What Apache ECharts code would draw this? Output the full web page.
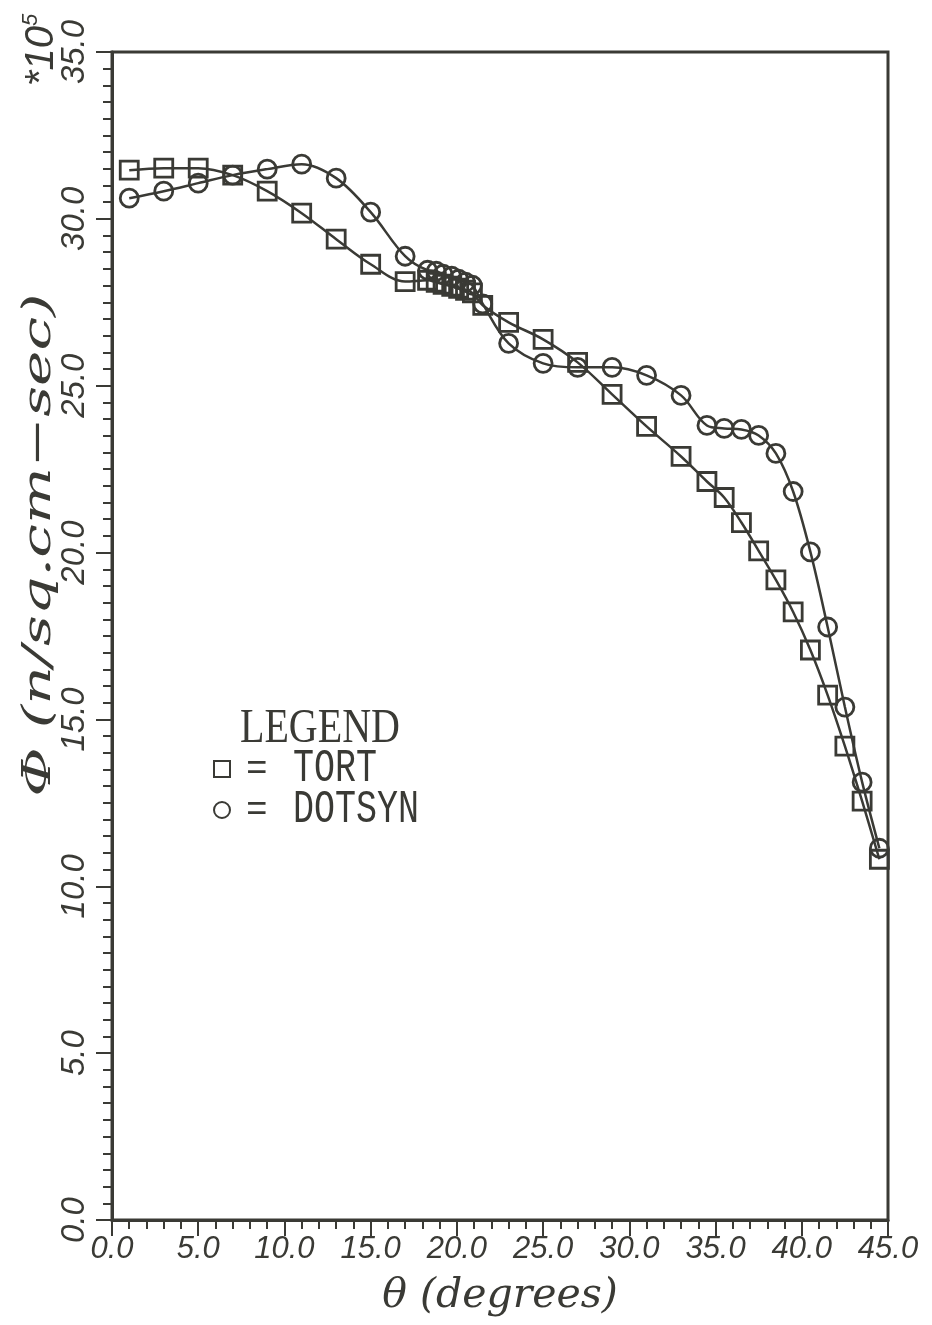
<!DOCTYPE html>
<html>
<head>
<meta charset="utf-8">
<script src="https://cdn.jsdelivr.net/npm/echarts@6/dist/echarts.min.js"></script>
<style>
  html, body { margin: 0; padding: 0; background: #fff; }
  #chart { width: 932px; height: 1325px; }
</style>
</head>
<body>
<div id="chart"></div>
<script>
  // theta (degrees) and flux (*10^5 n/sq.cm-sec)
  var thetaTort = [1, 3, 5, 7, 9, 11, 13, 15, 17, 18.3, 18.8, 19.2, 19.7, 20.1, 20.5, 20.9, 21.5,
    23, 25, 27, 29, 31, 33, 34.5, 35.5, 36.5, 37.5, 38.5, 39.5, 40.5, 41.5, 42.5, 43.5, 44.5];
  var fluxTort = [31.46, 31.52, 31.52, 31.31, 30.83, 30.17, 29.39, 28.64, 28.12, 28.16, 28.1, 28.04, 27.98, 27.92, 27.86, 27.78, 27.41,
    26.9, 26.39, 25.7, 24.74, 23.78, 22.88, 22.13, 21.65, 20.9, 20.05, 19.18, 18.22, 17.08, 15.73, 14.2, 12.55, 10.81];

  var thetaDotsyn = [1, 3, 5, 7, 9, 11, 13, 15, 17, 18.3, 18.8, 19.2, 19.7, 20.1, 20.5, 20.9, 21.5,
    23, 25, 27, 29, 31, 33, 34.5, 35.5, 36.5, 37.5, 38.5, 39.5, 40.5, 41.5, 42.5, 43.5, 44.5];
  var fluxDotsyn = [30.62, 30.83, 31.07, 31.31, 31.49, 31.64, 31.22, 30.2, 28.88, 28.46, 28.43, 28.34, 28.28, 28.19, 28.1, 28.01, 27.45,
    26.27, 25.67, 25.55, 25.55, 25.31, 24.71, 23.81, 23.72, 23.69, 23.51, 22.97, 21.83, 20.02, 17.77, 15.37, 13.12, 11.14];

  var xTicks = [0, 5, 10, 15, 20, 25, 30, 35, 40, 45];
  var yTicks = [0, 5, 10, 15, 20, 25, 30, 35];

  var ink = '#3a3a35';
  var myChart = echarts.init(document.getElementById('chart'), null, {renderer: 'canvas'});

  function pairs(xs, ys) {
    return xs.map(function (x, i) { return [x, ys[i]]; });
  }

  var option = {
    backgroundColor: '#fff',
    animation: false,
    grid: {
      left: 112, right: 44, top: 52, bottom: 105,
      show: true,
      borderColor: ink,
      borderWidth: 3,
      backgroundColor: 'transparent'
    },
    xAxis: {
      type: 'value',
      min: xTicks[0],
      max: xTicks[xTicks.length - 1],
      interval: 5,
      name: 'θ (degrees)',
      nameLocation: 'middle',
      nameGap: 56,
      nameTextStyle: {
        color: ink, fontFamily: 'DejaVu Serif', fontStyle: 'italic', fontSize: 41
      },
      axisLine: {lineStyle: {color: ink, width: 3}},
      axisTick: {inside: false, length: 16, lineStyle: {color: ink, width: 2}},
      minorTick: {show: true, splitNumber: 5, length: 9, lineStyle: {color: ink, width: 2}},
      splitLine: {show: false},
      axisLabel: {
        margin: 14,
        color: ink,
        fontFamily: 'Liberation Sans',
        fontStyle: 'italic',
        fontSize: 31,
        formatter: function (v) { return v.toFixed(1); }
      }
    },
    yAxis: {
      type: 'value',
      min: yTicks[0],
      max: yTicks[yTicks.length - 1],
      interval: 5,
      axisLine: {lineStyle: {color: ink, width: 3}},
      axisTick: {inside: false, length: 16, lineStyle: {color: ink, width: 2}},
      minorTick: {show: true, splitNumber: 10, length: 9, lineStyle: {color: ink, width: 2}},
      splitLine: {show: false},
      axisLabel: {
        margin: 21,
        rotate: 90,
        color: ink,
        fontFamily: 'Liberation Sans',
        fontStyle: 'italic',
        fontSize: 33,
        formatter: function (v) { return v.toFixed(1); }
      }
    },
    series: [
      {
        name: 'TORT',
        type: 'line',
        smooth: 0.35,
        data: pairs(thetaTort, fluxTort),
        symbol: 'rect',
        symbolSize: 18,
        lineStyle: {color: ink, width: 2.5},
        itemStyle: {color: 'transparent', borderColor: ink, borderWidth: 2.8}
      },
      {
        name: 'DOTSYN',
        type: 'line',
        smooth: 0.35,
        data: pairs(thetaDotsyn, fluxDotsyn),
        symbol: 'circle',
        symbolSize: 18,
        lineStyle: {color: ink, width: 2.5},
        itemStyle: {color: 'transparent', borderColor: ink, borderWidth: 2.8}
      }
    ],
    graphic: [
      {
        type: 'text',
        x: 40, y: 545,
        rotation: Math.PI / 2,
        scaleX: 1.5,
        style: {
          text: 'Φ (n/sq.cm−sec)',
          fill: ink,
          font: 'italic 40px "DejaVu Serif"',
          align: 'center',
          verticalAlign: 'middle'
        }
      },
      {
        type: 'text',
        x: 42, y: 50,
        rotation: Math.PI / 2,
        style: {
          text: '{a|*10}{s|5}',
          fill: ink,
          align: 'center',
          verticalAlign: 'middle',
          rich: {
            a: {font: 'italic 40px "Liberation Sans"', fill: ink},
            s: {font: 'italic 22px "Liberation Sans"', fill: ink, verticalAlign: 'top', padding: [0, 0, 22, 0]}
          }
        }
      },
      {
        type: 'text',
        x: 240, y: 729,
        scaleY: 1.2,
        style: {
          text: 'LEGEND',
          fill: ink,
          font: '40px "Liberation Serif"',
          verticalAlign: 'middle'
        }
      },
      {
        type: 'rect',
        shape: {x: 214, y: 761, width: 16, height: 16},
        style: {fill: 'none', stroke: ink, lineWidth: 2}
      },
      {
        type: 'circle',
        shape: {cx: 222, cy: 810, r: 8},
        style: {fill: 'none', stroke: ink, lineWidth: 2}
      },
      {
        type: 'text',
        x: 246, y: 769,
        style: {text: '=', fill: ink, font: '36px "Liberation Mono"', verticalAlign: 'middle'}
      },
      {
        type: 'text',
        x: 246, y: 810,
        style: {text: '=', fill: ink, font: '36px "Liberation Mono"', verticalAlign: 'middle'}
      },
      {
        type: 'text',
        x: 293, y: 769,
        scaleY: 1.3,
        style: {text: 'TORT', fill: ink, font: '35px "Liberation Mono"', verticalAlign: 'middle'}
      },
      {
        type: 'text',
        x: 293, y: 810,
        scaleY: 1.3,
        style: {text: 'DOTSYN', fill: ink, font: '35px "Liberation Mono"', verticalAlign: 'middle'}
      }
    ]
  };

  option && myChart.setOption(option);
</script>
</body>
</html>
